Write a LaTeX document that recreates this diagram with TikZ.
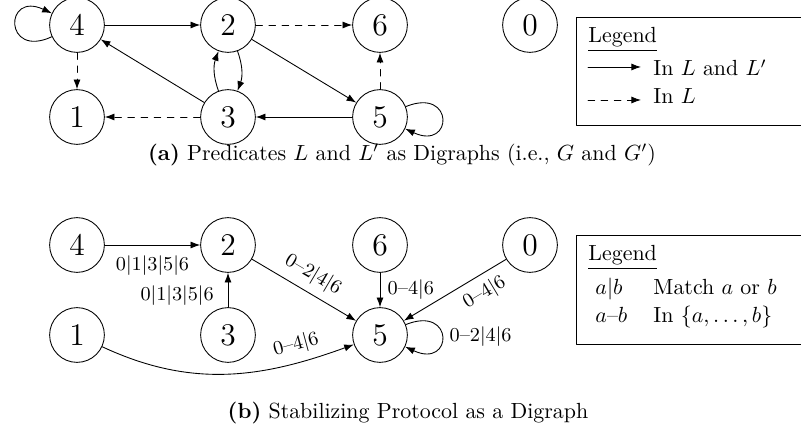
\documentclass[tikz,border=0pt]{standalone}
\usetikzlibrary{arrows.meta}
\tikzset{
  state/.style={circle,draw,minimum size=25pt,inner sep=0pt,font=\Large},
  lbl/.style={font=\small},
  legtext/.style={anchor=base west,inner sep=0pt},
  selfloop/.style={min distance=8.5mm},
}
\begin{document}
\begin{tikzpicture}[line cap=round,line join=round,>={Latex[length=4.4pt,width=3.2pt]},x=0.4566pt,y=0.4566pt]
\useasboundingbox (0,0) rectangle (801,435);
% (a) predicates as digraphs
\node[state] (a4) at (77,410) {4};
\node[state] (a2) at (228,410) {2};
\node[state] (a6) at (380,410) {6};
\node[state] (a0) at (530,410) {0};
\node[state] (a1) at (77,318) {1};
\node[state] (a3) at (228,318) {3};
\node[state] (a5) at (380,318) {5};
\draw[->] (a4) -- (a2);
\draw[->,dashed] (a2) -- (a6);
\draw[->,dashed] (a4) -- (a1);
\draw[->] (a3) -- (a4);
\draw[->,dashed] (a3) -- (a1);
\draw[->] (a2) -- (a5);
\draw[->] (a5) -- (a3);
\draw[->,dashed] (a5) -- (a6);
\draw[->] (a3) to[bend left=20] (a2);
\draw[->] (a2) to[bend left=20] (a3);
\draw[->] (a4) to[out=205,in=155,selfloop] (a4);
\draw[->] (a5) to[out=22,in=-25,selfloop] (a5);
% legend (a)
\draw (576,418) rectangle (830,310);
\node[legtext] (legA) at (588,392) {\underline{Legend}};
\coordinate (sA1) at (588,368);
\coordinate (eA1) at (641,368);
\coordinate (sA2) at (588,335);
\coordinate (eA2) at (641,335);
\draw[->] (sA1) -- (eA1);
\draw[->,dashed] (sA2) -- (eA2);
\node[legtext] (inLL) at (653,359) {In $L$ and $L'$};
\node[legtext] (inL) at (653,331) {In $L$};
\node (capA) at (402,280) {\textbf{(a)} Predicates $L$ and $L'$ as Digraphs (i.e., $G$ and $G'$)};
% (b) stabilizing protocol
\node[state] (b4) at (77,190) {4};
\node[state] (b2) at (228,190) {2};
\node[state] (b6) at (380,190) {6};
\node[state] (b0) at (530,190) {0};
\node[state] (b1) at (77,100) {1};
\node[state] (b3) at (228,100) {3};
\node[state] (b5) at (380,100) {5};
\draw[->] (b4) -- node[lbl,below=1.5pt] {$0|1|3|5|6$} (b2);
\draw[->] (b3) -- node[lbl,left=3pt,pos=0.35] {$0|1|3|5|6$} (b2);
\draw[->] (b2) -- node[lbl,sloped,above] {0--2$|$4$|$6} (b5);
\draw[->] (b6) -- node[lbl,right] {0--4$|$6} (b5);
\draw[->] (b0) -- node[lbl,sloped,below,pos=0.3] {0--4$|$6} (b5);
\draw[->] (b1) to[out=-25,in=200] node[lbl,sloped,above,pos=0.8] {0--4$|$6} (b5);
\draw[->] (b5) to[out=22,in=-25,selfloop] node[lbl,right] {0--2$|$4$|$6} (b5);
% legend (b)
\draw (576,200) rectangle (830,91);
\node[legtext] (legB) at (588,174) {\underline{Legend}};
\node[legtext] (orSym) at (595,141) {$a|b$};
\node[legtext] (orTxt) at (653,141) {Match $a$ or $b$};
\node[legtext] (inSym) at (595,113) {$a$--$b$};
\node[legtext] (inTxt) at (653,113) {In $\{a,\ldots,b\}$};
\node (capB) at (408,22) {\textbf{(b)} Stabilizing Protocol as a Digraph};
\end{tikzpicture}
\end{document}
